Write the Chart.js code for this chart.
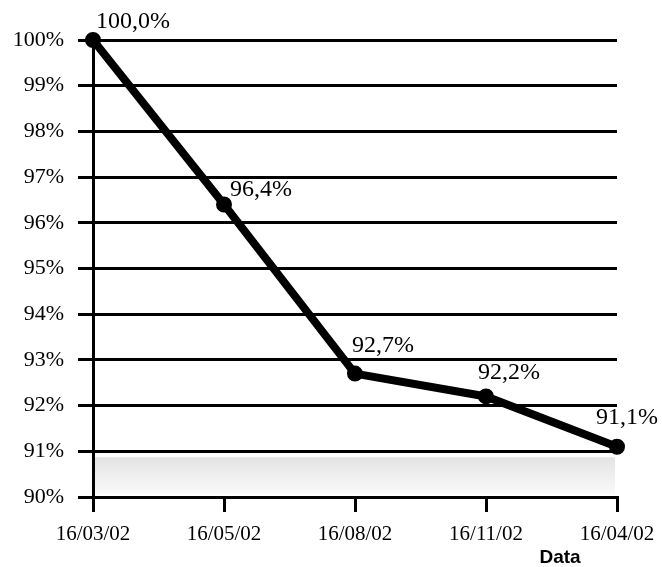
<!DOCTYPE html>
<html>
<head>
<meta charset="utf-8">
<script src="https://cdn.jsdelivr.net/npm/chart.js@4/dist/chart.umd.min.js"></script>
<style>
html,body{margin:0;padding:0;background:#fff;}
#wrap{width:662px;height:567px;position:relative;}
</style>
</head>
<body>
<div id="wrap"><canvas id="c"></canvas></div>
<script>
const categories = ['16/03/02', '16/05/02', '16/08/02', '16/11/02', '16/04/02'];
const values = [100.0, 96.4, 92.7, 92.2, 91.1];
const valueLabels = ['100,0%', '96,4%', '92,7%', '92,2%', '91,1%'];
const axisTitle = 'Data';

const labelOffsets = [[40,-18],[37,-15],[28,-28],[23,-24],[10,-29]];

const bandPlugin = {
  id: 'band',
  beforeDatasetsDraw(chart) {
    const {ctx, chartArea, scales} = chart;
    const y91 = scales.y.getPixelForValue(91);
    const y90 = scales.y.getPixelForValue(90);
    const top = y91 + 6, bot = y90 - 3;
    const g = ctx.createLinearGradient(0, top, 0, bot);
    g.addColorStop(0, '#e3e3e3');
    g.addColorStop(1, '#fafafa');
    ctx.save();
    ctx.fillStyle = g;
    ctx.fillRect(chartArea.left + 2, top, chartArea.right - chartArea.left - 4, bot - top);
    ctx.restore();
  }
};

const labelPlugin = {
  id: 'vlabels',
  afterDatasetsDraw(chart) {
    const {ctx} = chart;
    const meta = chart.getDatasetMeta(0);
    ctx.save();
    ctx.font = '24px "Liberation Serif", serif';
    ctx.fillStyle = '#000';
    ctx.textAlign = 'center';
    ctx.textBaseline = 'middle';
    meta.data.forEach((pt, i) => {
      const o = labelOffsets[i];
      ctx.fillText(valueLabels[i], pt.x + o[0], pt.y + o[1]);
    });
    ctx.font = 'bold 19px "Liberation Sans", Arial, sans-serif';
    ctx.fillText(axisTitle, chart.chartArea.right - 57, 558);
    ctx.restore();
  }
};

new Chart(document.getElementById('c'), {
  type: 'line',
  data: {
    labels: categories,
    datasets: [{
      data: values,
      borderColor: '#000',
      backgroundColor: '#000',
      borderWidth: 8,
      pointRadius: 4,
      pointBackgroundColor: '#000',
      pointBorderColor: '#000',
      tension: 0,
      clip: false
    }]
  },
  options: {
    responsive: true,
    maintainAspectRatio: false,
    animation: false,
    events: [],
    layout: {padding: {left: 0, top: 40, right: 45, bottom: 0}},
    plugins: {legend: {display: false}, tooltip: {enabled: false}},
    scales: {
      x: {
        type: 'category',
        offset: false,
        afterFit(s) { s.height = 70; s.paddingRight = 0; s.paddingLeft = 0; },
        grid: {drawOnChartArea: false, drawTicks: true, tickLength: 15, color: '#000', lineWidth: 3},
        border: {display: true, color: '#000', width: 3},
        ticks: {color: '#000', padding: 10, maxRotation: 0, font: {family: '"Liberation Serif", serif', size: 21}}
      },
      y: {
        min: 90, max: 100,
        afterFit(s) { s.width = 93; },
        grid: {color: '#000', lineWidth: 3, tickLength: 15, drawTicks: true},
        border: {display: true, color: '#000', width: 3},
        ticks: {stepSize: 1, color: '#000', padding: 14, font: {family: '"Liberation Serif", serif', size: 22},
          callback: v => v + '%'}
      }
    }
  },
  plugins: [bandPlugin, labelPlugin]
});
</script>
</body>
</html>
